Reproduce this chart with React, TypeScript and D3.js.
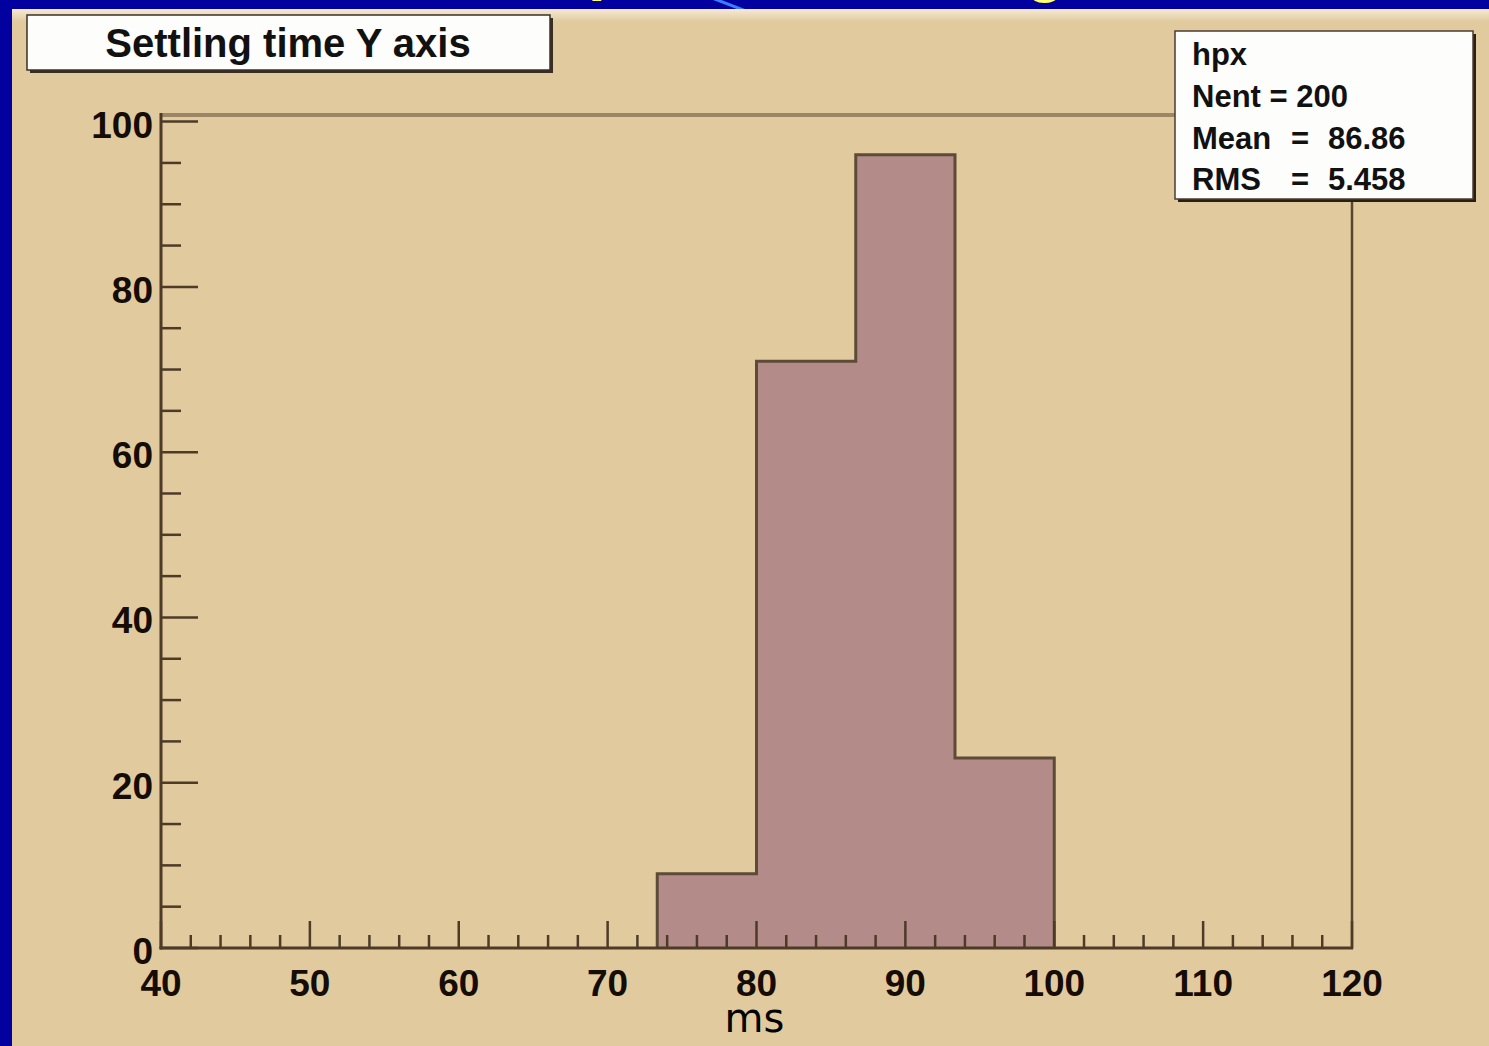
import React from "react";
import * as d3 from "d3";

// ---- data ----
const binEdges = [40, 46.667, 53.333, 60, 66.667, 73.333, 80, 86.667, 93.333, 100, 106.667, 113.333, 120];
const binCounts = [0, 0, 0, 0, 0, 9, 71, 96, 23, 0, 0, 0];
const xMajorTicks = [40, 50, 60, 70, 80, 90, 100, 110, 120];
const yMajorTicks = [0, 20, 40, 60, 80, 100];
const titleText = "Settling time Y axis";
const axisTitle = "ms";
const statsName = "hpx";
const statsLabels = ["Mean", "RMS"];
const statsValues = ["86.86", "5.458"];
const nentText = "Nent = 200";

const W = 1489;
const H = 1046;
const FONT = "'Liberation Sans', Arial, Helvetica, sans-serif";

export default function App() {
  const yMax = d3.max(binCounts)! * 1.05;
  const x = d3.scaleLinear().domain([40, 120]).range([161, 1352]);
  const y = d3.scaleLinear().domain([0, yMax]).range([948, 115]);

  // step outline path of histogram
  const pts: [number, number][] = [];
  let first = binCounts.findIndex((c) => c > 0);
  let last = binCounts.length - 1 - [...binCounts].reverse().findIndex((c) => c > 0);
  pts.push([x(binEdges[first]), y(0)]);
  for (let i = first; i <= last; i++) {
    pts.push([x(binEdges[i]), y(binCounts[i])]);
    pts.push([x(binEdges[i + 1]), y(binCounts[i])]);
  }
  pts.push([x(binEdges[last + 1]), y(0)]);
  const stepPath = d3.line()(pts)!;

  const xMinor = d3.range(40, 120.01, 2).filter((v) => !xMajorTicks.includes(Math.round(v)));
  const yMinor = d3.range(0, 100.01, 5).filter((v) => v % 20 !== 0);

  const axisColor = "#4d3b28";
  const tan = "#e1cb9e";

  return (
    <svg width={W} height={H} style={{ position: "absolute", left: 0, top: 0, display: "block" }}>
      <defs>
        <clipPath id="topStrip">
          <rect x={0} y={0} width={W} height={9} />
        </clipPath>
        <linearGradient id="bgGrad" x1="0" y1="0" x2="0" y2="1">
          <stop offset="0" stopColor="#f6ead4" />
          <stop offset="0.012" stopColor={tan} />
          <stop offset="1" stopColor={tan} />
        </linearGradient>
      </defs>
      {/* slide background */}
      <rect x={0} y={0} width={W} height={H} fill="#02009e" />
      <rect x={12} y={9} width={W - 12} height={H - 9} fill="url(#bgGrad)" />
      {/* fragments of slide title cut off at top */}
      <g clipPath="url(#topStrip)">
        <text x={588} y={-12} fontFamily={FONT} fontWeight="bold" fontSize={64} fill="#ffff70">p</text>
        <text x={1026} y={-10} fontFamily={FONT} fontWeight="bold" fontSize={64} fill="#ffff70">g</text>
        <line x1={712} y1={-2} x2={746} y2={11} stroke="#3d7cff" strokeWidth={3} />
      </g>

      {/* histogram */}
      <path d={stepPath + "Z"} fill="#b38c8a" stroke="none" />
      <path d={stepPath} fill="none" stroke="#5e4a38" strokeWidth={3} />

      {/* frame */}
      <line x1={161} y1={115} x2={1176} y2={115} stroke="#9c8666" strokeWidth={4} />
      <line x1={1352} y1={199} x2={1352} y2={949} stroke="#5a4630" strokeWidth={2.5} />
      <line x1={161} y1={113} x2={161} y2={949.5} stroke={axisColor} strokeWidth={3} />
      <line x1={159.5} y1={948} x2={1353} y2={948} stroke={axisColor} strokeWidth={3} />

      {/* y ticks */}
      {yMajorTicks.map((v) => (
        <g key={"ym" + v}>
          <line x1={161} x2={198} y1={y(v)} y2={y(v)} stroke={axisColor} strokeWidth={2.5} />
          <text x={153} y={y(v) + 16} textAnchor="end" fontFamily={FONT} fontWeight="bold" fontSize={37} fill="#140c05">
            {v}
          </text>
        </g>
      ))}
      {yMinor.map((v) => (
        <line key={"yn" + v} x1={161} x2={181} y1={y(v)} y2={y(v)} stroke={axisColor} strokeWidth={2.5} />
      ))}

      {/* x ticks */}
      {xMajorTicks.map((v) => (
        <g key={"xm" + v}>
          <line x1={x(v)} x2={x(v)} y1={948} y2={921} stroke={axisColor} strokeWidth={2.5} />
          <text x={x(v)} y={996} textAnchor="middle" fontFamily={FONT} fontWeight="bold" fontSize={37} fill="#140c05">
            {v}
          </text>
        </g>
      ))}
      {xMinor.map((v) => (
        <line key={"xn" + v} x1={x(v)} x2={x(v)} y1={948} y2={935} stroke={axisColor} strokeWidth={2.5} />
      ))}

      {/* axis title */}
      <text x={x(80) - 2} y={1032} textAnchor="middle" fontFamily="'DejaVu Sans', sans-serif" fontSize={40} fill="#000">
        {axisTitle}
      </text>

      {/* title box */}
      <rect x={30} y={18} width={523} height={55} fill="#3a2e22" />
      <rect x={27} y={15} width={523} height={55} fill="#fdfdfb" stroke="#3a3028" strokeWidth={1.5} />
      <text x={288} y={57} textAnchor="middle" fontFamily={FONT} fontWeight="bold" fontSize={40} fill="#111">
        {titleText}
      </text>

      {/* stats box */}
      <rect x={1178} y={34} width={298} height={168} fill="#2a1e14" />
      <rect x={1175} y={31} width={298} height={168} fill="#fdfdfc" stroke="#4a3d30" strokeWidth={1.5} />
      <text x={1192} y={65} fontFamily={FONT} fontWeight="bold" fontSize={31} fill="#111">{statsName}</text>
      <text x={1192} y={107} fontFamily={FONT} fontWeight="bold" fontSize={31} fill="#111">{nentText}</text>
      {statsLabels.map((lab, i) => (
        <g key={lab}>
          <text x={1192} y={149 + i * 41} fontFamily={FONT} fontWeight="bold" fontSize={31} fill="#111">{lab}</text>
          <text x={1300} y={149 + i * 41} textAnchor="middle" fontFamily={FONT} fontWeight="bold" fontSize={31} fill="#111">=</text>
          <text x={1328} y={149 + i * 41} fontFamily={FONT} fontWeight="bold" fontSize={31} fill="#111">{statsValues[i]}</text>
        </g>
      ))}
    </svg>
  );
}
